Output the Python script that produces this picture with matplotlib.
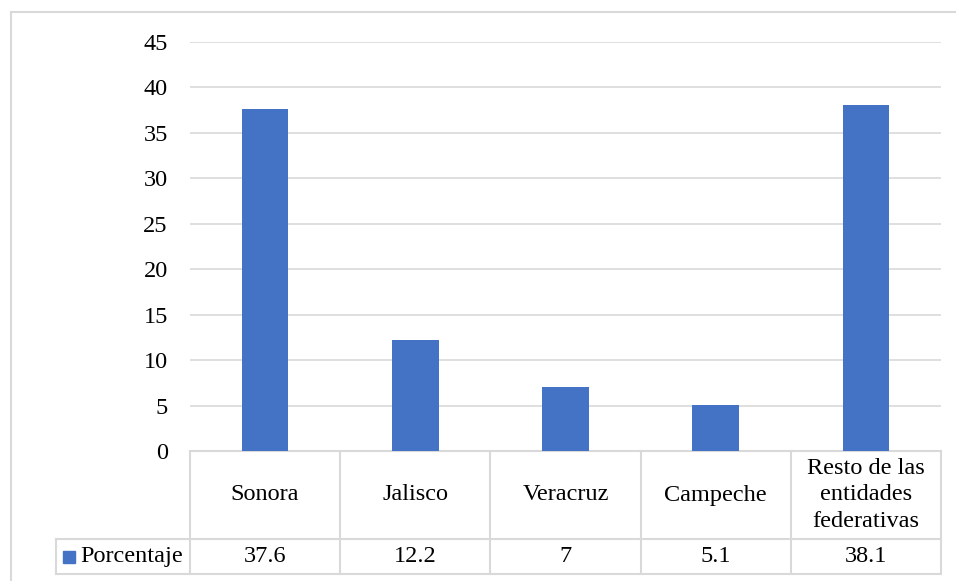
import matplotlib.pyplot as plt
from matplotlib.lines import Line2D
from matplotlib.transforms import blended_transform_factory

plt.rcParams['font.family'] = ['Liberation Serif', 'DejaVu Serif']

# data
estados = ['Sonora', 'Jalisco', 'Veracruz', 'Campeche', 'Resto de las\nentidades\nfederativas']
porcentaje = [37.6, 12.2, 7, 5.1, 38.1]
etiquetas_valor = ['37.6', '12.2', '7', '5.1', '38.1']
serie = 'Porcentaje'
yticks = [0, 5, 10, 15, 20, 25, 30, 35, 40, 45]

W, H = 956, 581
azul = '#4472C4'
gris = '#D9D9D9'
fs = 17.5

fig = plt.figure(figsize=(W / 100, H / 100), dpi=100)
ax = fig.add_axes([190 / W, 1 - 451 / H, (941 - 190) / W, (451 - 42) / H])

x = range(len(estados))
ax.bar(x, porcentaje, width=0.31, color=azul, zorder=3)
ax.set_xlim(-0.5, len(estados) - 0.5)
ax.set_ylim(0, 45)
ax.set_yticks(yticks)
ax.set_yticklabels([str(v) for v in yticks], fontsize=fs)
ax.tick_params(axis='y', length=0, pad=16)
ax.set_xticks([])
for s in ax.spines.values():
    s.set_visible(False)
ax.yaxis.grid(True, color=gris, lw=1.2, zorder=0)

# data table below the chart, drawn by hand
ax_h = 451 - 42
ax_w = 941 - 190
y_mid = -(539 - 451) / ax_h      # bottom of the header row
y_bot = -(574 - 451) / ax_h      # bottom of the table
x_lab = (56 - 190) / ax_w        # left edge of the row label cell
tr = blended_transform_factory(ax.transData, ax.transAxes)
kw = dict(color=gris, lw=1.5, clip_on=False)

n = len(estados)
ax.plot([-0.5, n - 0.5], [0, 0], transform=tr, **kw)
for i in range(n + 1):
    ax.plot([i - 0.5, i - 0.5], [0, y_bot], transform=tr, **kw)
ax.plot([x_lab, 1], [y_mid, y_mid], transform=ax.transAxes, **kw)
ax.plot([x_lab, 1], [y_bot, y_bot], transform=ax.transAxes, **kw)
ax.plot([x_lab, x_lab], [y_mid, y_bot], transform=ax.transAxes, **kw)

for i, (nombre, val) in enumerate(zip(estados, etiquetas_valor)):
    ax.text(i, y_mid / 2, nombre, transform=tr, ha='center', va='center',
            fontsize=fs, linespacing=1.32)
    ax.text(i, (y_mid + y_bot) / 2, val, transform=tr, ha='center', va='center', fontsize=fs)

ax.text((183 - 190) / ax_w, (y_mid + y_bot) / 2, serie, transform=ax.transAxes,
        ha='right', va='center', fontsize=fs)
# legend key square in the row label
ax.plot([(69 - 190) / ax_w], [(y_mid + y_bot) / 2], marker='s', ms=9, color=azul,
        transform=ax.transAxes, clip_on=False)

# outer chart frame (left and top edges)
fig.add_artist(Line2D([11 / W, 11 / W], [0, 1 - 12 / H], color=gris, lw=1.5, transform=fig.transFigure))
fig.add_artist(Line2D([11 / W, 1], [1 - 12 / H, 1 - 12 / H], color=gris, lw=1.5, transform=fig.transFigure))

fig.savefig('out.png', dpi=100)
